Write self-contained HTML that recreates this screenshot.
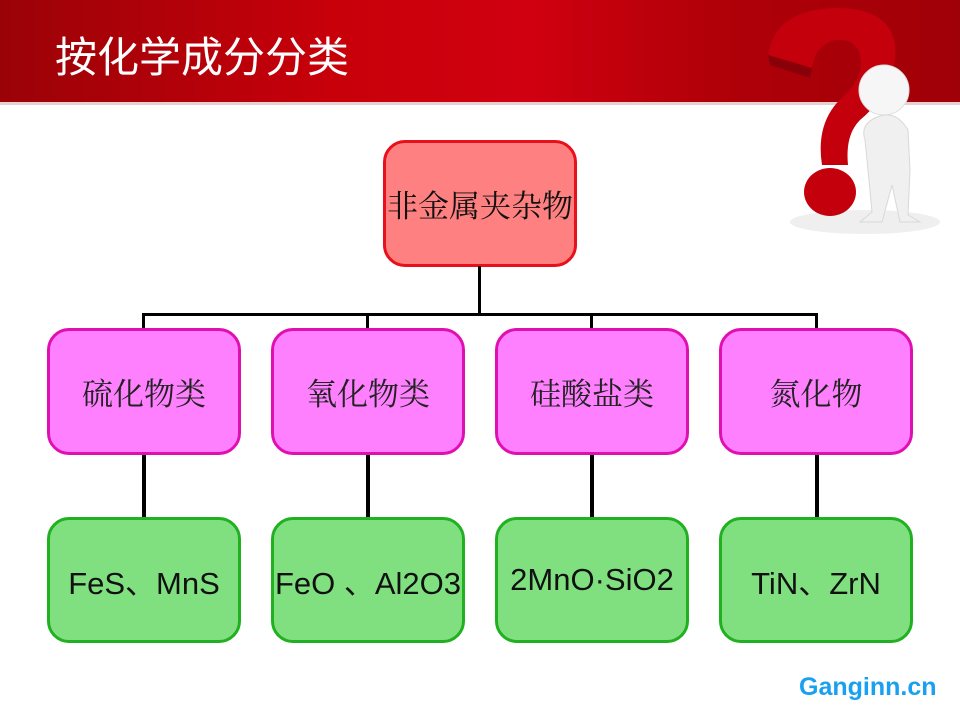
<!DOCTYPE html>
<html><head><meta charset="utf-8"><style>
body{margin:0;width:960px;height:720px;overflow:hidden;background:#fff;position:relative;font-family:"Liberation Sans","Noto Sans CJK SC",sans-serif}
.hdr{position:absolute;left:0;top:0;width:960px;height:102px;background:linear-gradient(90deg,#9a0208 0%,#c8000a 35%,#d00010 55%,#b00008 75%,#a00008 100%);border-bottom:3px solid #e6d0d0}
.title{position:absolute;left:55px;top:30px;color:#fff;font-size:42px;font-family:"Noto Sans CJK SC",sans-serif;line-height:50px}
.box{position:absolute;box-sizing:border-box;border-radius:22px;display:flex;align-items:center;justify-content:center;font-size:31px;white-space:nowrap}
.top{left:383px;top:140px;width:194px;height:127px;background:#ff8080;border:3px solid #e8101a;font-family:"Noto Serif CJK SC",serif;color:#111}
.p{top:328px;width:194px;height:127px;background:#ff80ff;border:3px solid #e010b0;font-family:"Noto Serif CJK SC",serif;color:#222}
.g{top:517px;width:194px;height:126px;background:#80e080;border:3px solid #20b020;font-family:"Liberation Sans","Noto Sans CJK SC",sans-serif;color:#111;font-size:31px;letter-spacing:0}
.l{position:absolute;background:#000}
.wm{position:absolute;left:799px;top:673px;color:#1aa0f0;font-weight:bold;font-size:25px;font-family:"Liberation Sans",sans-serif}
</style></head><body>
<div class="hdr"></div>
<div class="title">按化学成分分类</div>
<svg style="position:absolute;left:760px;top:0" width="200" height="240">
<ellipse cx="105" cy="222" rx="75" ry="12" fill="#efefef"/>
<path d="M8 55 Q15 8 80 8 Q140 10 135 60 Q130 95 100 120 Q85 135 88 165 L62 165 Q55 120 85 95 Q105 75 100 55 Q95 38 75 40 Q55 45 52 68 Z" fill="#c4000c"/>
<path d="M8 55 L52 68 L50 78 L10 65 Z" fill="#8a0008"/>
<ellipse cx="70" cy="192" rx="26" ry="24" fill="#c4000c"/>
<circle cx="124" cy="90" r="25" fill="#f6f6f6" stroke="#ddd"/>
<path d="M115 118 Q135 108 148 130 L150 170 L148 215 L160 222 L140 222 L132 185 L122 222 L100 222 L112 212 L108 170 L105 140 Q100 125 115 118 Z" fill="#f0f0f0" stroke="#d8d8d8"/>
</svg>
<div class="box top">非金属夹杂物</div>
<div class="l" style="left:478px;top:266px;width:3px;height:49px"></div>
<div class="l" style="left:142px;top:313px;width:676px;height:3px"></div>
<div class="l" style="left:142px;top:313px;width:3px;height:16px"></div>
<div class="l" style="left:366px;top:313px;width:3px;height:16px"></div>
<div class="l" style="left:590px;top:313px;width:3px;height:16px"></div>
<div class="l" style="left:815px;top:313px;width:3px;height:16px"></div>
<div class="l" style="left:142px;top:454px;width:4px;height:64px"></div>
<div class="l" style="left:366px;top:454px;width:4px;height:64px"></div>
<div class="l" style="left:590px;top:454px;width:4px;height:64px"></div>
<div class="l" style="left:815px;top:454px;width:4px;height:64px"></div>
<div class="box p" style="left:47px">硫化物类</div>
<div class="box p" style="left:271px">氧化物类</div>
<div class="box p" style="left:495px">硅酸盐类</div>
<div class="box p" style="left:719px">氮化物</div>
<div class="box g" style="left:47px">FeS、MnS</div>
<div class="box g" style="left:271px">FeO 、Al2O3</div>
<div class="box g" style="left:495px">2MnO·SiO2</div>
<div class="box g" style="left:719px">TiN、ZrN</div>
<div class="wm">Ganginn.cn</div>
</body></html>
